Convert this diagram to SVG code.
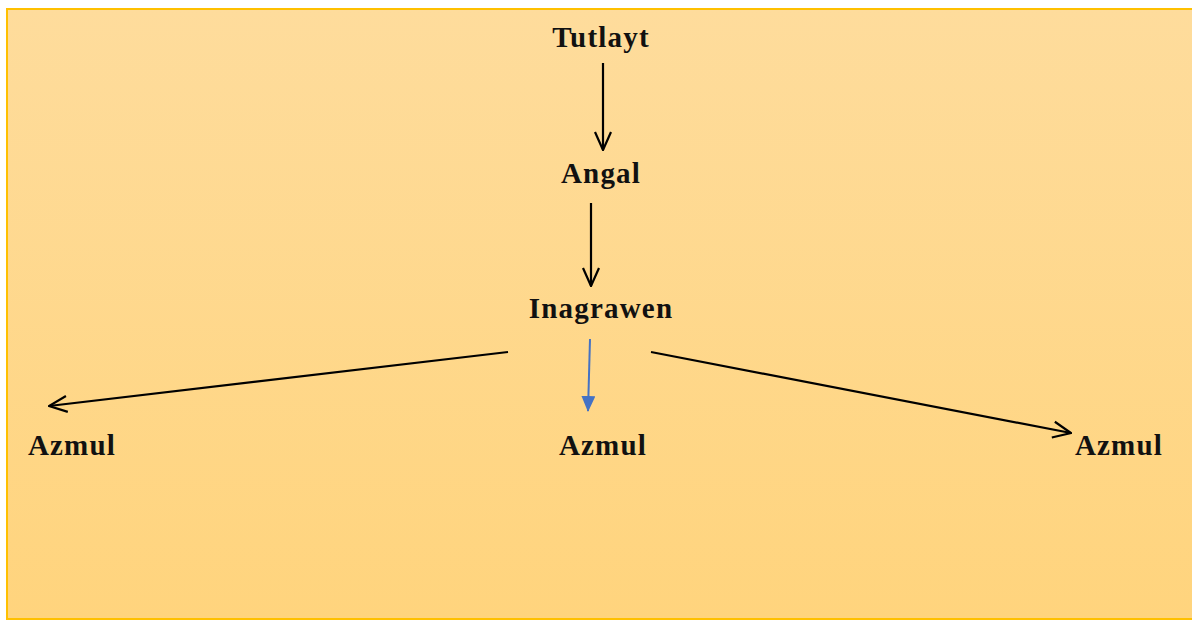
<svg xmlns="http://www.w3.org/2000/svg" width="1192" height="621" viewBox="0 0 1192 621">
<defs>
<linearGradient id="bg" x1="0" y1="0" x2="0" y2="1">
<stop offset="0" stop-color="#FEDC9C"/>
<stop offset="1" stop-color="#FFD47D"/>
</linearGradient>
<marker id="open2" viewBox="0 0 20 20" refX="19" refY="10" markerWidth="20" markerHeight="20" markerUnits="userSpaceOnUse" orient="auto">
<path d="M1,2 L19,10 L1,18" fill="none" stroke="#000" stroke-width="2.2"/>
</marker>
<marker id="tri" viewBox="0 0 16 14" refX="15" refY="7" markerWidth="16" markerHeight="14" markerUnits="userSpaceOnUse" orient="auto">
<path d="M0,0 L16,7 L0,14 Z" fill="#4472C4"/>
</marker>
</defs>
<style>
.lbl{font-family:"Liberation Serif","Times New Roman",serif;font-weight:bold;font-size:29px;letter-spacing:1.2px;fill:#111;text-anchor:middle}
.c{fill:none;stroke:#000;stroke-width:2.2}
</style>
<rect x="0" y="0" width="1192" height="621" fill="#fff"/>
<rect x="7" y="9" width="1190" height="610" fill="url(#bg)" stroke="#FFC000" stroke-width="2"/>
<g id="connectors">
<line class="c" x1="603" y1="63" x2="603" y2="150" marker-end="url(#open2)"/>
<line class="c" x1="591" y1="203" x2="591" y2="286" marker-end="url(#open2)"/>
<line class="c" x1="508" y1="352" x2="49" y2="406" marker-end="url(#open2)"/>
<line class="c" x1="651" y1="352" x2="1071" y2="433" marker-end="url(#open2)"/>
<line x1="590" y1="339" x2="588" y2="411" stroke="#4472C4" stroke-width="2" marker-end="url(#tri)"/>
</g>
<g id="n-tutlayt"><text class="lbl" x="601" y="47">Tutlayt</text></g>
<g id="n-angal"><text class="lbl" x="601" y="183">Angal</text></g>
<g id="n-inagrawen"><text class="lbl" x="601" y="318">Inagrawen</text></g>
<g id="n-azmul-left"><text class="lbl" x="72" y="455">Azmul</text></g>
<g id="n-azmul-mid"><text class="lbl" x="603" y="455">Azmul</text></g>
<g id="n-azmul-right"><text class="lbl" x="1119" y="455">Azmul</text></g>
</svg>
